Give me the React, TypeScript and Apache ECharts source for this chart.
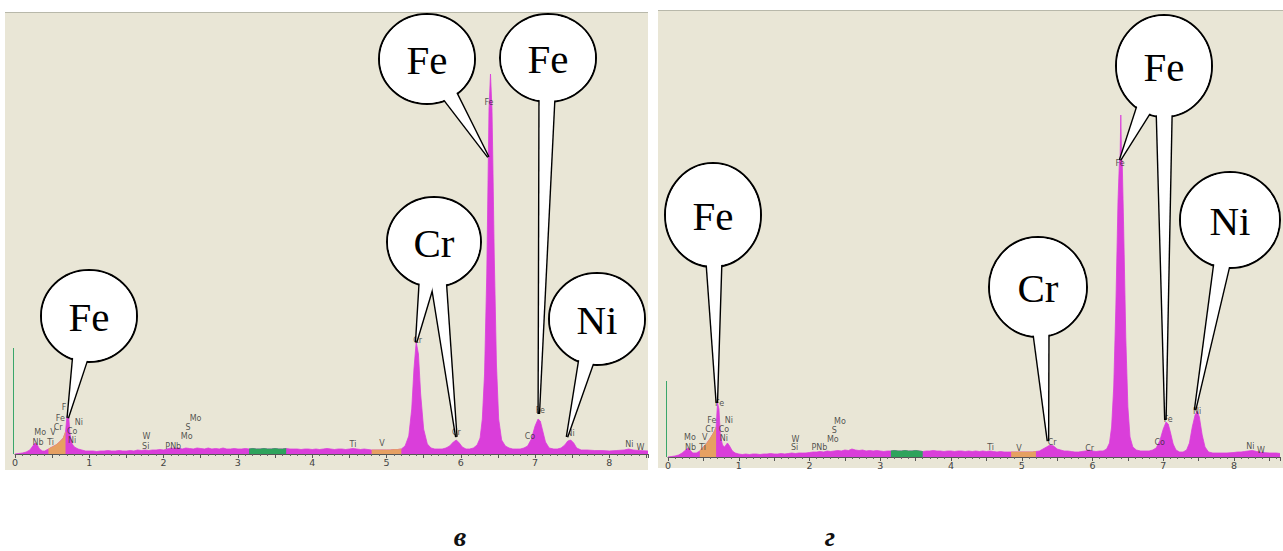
import React, { useEffect, useRef } from "react";
import * as echarts from "echarts";

// ---------- spectrum "в" (left panel): energy, keV / counts (arb. units) ----------
const leftEnergy = [
  0.0, 0.05, 0.1, 0.15, 0.2, 0.24, 0.27, 0.3, 0.33, 0.37, 0.4, 0.45, 0.5, 0.55, 0.6, 0.65, 0.68, 0.7, 0.72, 0.74, 0.77, 0.8, 0.85, 0.9, 0.95,
  1.0, 1.05, 1.1, 1.15, 1.2, 1.25, 1.3, 1.35, 1.4, 1.45, 1.5, 1.55, 1.6, 1.65, 1.7, 1.75, 1.8, 1.85, 1.9, 1.95,
  2.0, 2.05, 2.1, 2.15, 2.2, 2.25, 2.3, 2.35, 2.4, 2.45, 2.5, 2.55, 2.6, 2.65, 2.7, 2.75, 2.8, 2.85, 2.9, 2.95,
  3.0, 3.05, 3.1, 3.15, 3.2, 3.25, 3.3, 3.35, 3.4, 3.45, 3.5, 3.55, 3.6, 3.65, 3.7, 3.75, 3.8, 3.85, 3.9, 3.95,
  4.0, 4.05, 4.1, 4.15, 4.2, 4.25, 4.3, 4.35, 4.4, 4.45, 4.5, 4.55, 4.6, 4.65, 4.7, 4.75, 4.8, 4.85, 4.9, 4.95,
  5.0, 5.05, 5.1, 5.15, 5.2, 5.25, 5.3, 5.34, 5.37, 5.4, 5.43, 5.46, 5.5, 5.55, 5.6, 5.65, 5.7, 5.75, 5.8, 5.85, 5.9, 5.94, 5.98,
  6.02, 6.07, 6.12, 6.17, 6.22, 6.26, 6.29, 6.32, 6.35, 6.37, 6.38, 6.4, 6.42, 6.43, 6.45, 6.48, 6.51, 6.55, 6.6, 6.65, 6.7, 6.75, 6.8, 6.85, 6.9, 6.95,
  7.0, 7.04, 7.07, 7.1, 7.14, 7.19, 7.25, 7.3, 7.35, 7.4, 7.44, 7.48, 7.52, 7.56, 7.62, 7.7, 7.8, 7.9,
  8.0, 8.1, 8.2, 8.26, 8.32, 8.4, 8.52,
];
const leftCounts = [
  0, 0.5, 1, 2, 4, 8, 11, 9, 5, 3, 3, 5, 7, 9, 12, 16, 22, 38, 40, 20, 10, 7, 5, 4, 3,
  3, 3, 2.5, 3, 3, 3.5, 3, 3, 3.5, 3, 3, 3.5, 3, 4, 3.5, 4, 3.5, 4, 4, 4.5,
  4, 5, 6, 5.5, 6, 5, 6, 5.5, 5, 6, 5.5, 5, 6, 5, 5.5, 5, 6, 5, 5, 5.5,
  5, 5, 5.5, 5, 5.5, 5, 5, 5.5, 5, 5, 5.5, 5, 5, 5.5, 5, 5, 5, 4.5, 5, 5,
  4.5, 5, 4.5, 5, 5.5, 5, 4.5, 5, 5, 4.5, 5, 5.5, 5, 4.5, 5, 4.5, 4, 4, 4, 4,
  4, 4, 4.5, 4.5, 5, 8, 18, 45, 85, 112, 100, 60, 25, 10, 6, 5, 5, 5, 6, 8, 12, 14, 11,
  7, 5, 5, 6, 9, 16, 35, 80, 180, 290, 345, 380, 345, 300, 200, 90, 35, 14, 8, 6, 5, 5, 5, 6, 8, 15,
  28, 35, 33, 24, 12, 6, 5, 5, 6, 9, 13, 14, 11, 6, 4, 4, 3.5, 3.5,
  3, 3.5, 4, 5, 4, 3.5, 3,
];

// ---------- spectrum "г" (right panel) ----------
const rightEnergy = [
  0.0, 0.05, 0.1, 0.15, 0.2, 0.25, 0.28, 0.31, 0.35, 0.4, 0.45, 0.5, 0.55, 0.6, 0.65, 0.68, 0.7, 0.72, 0.74, 0.77, 0.8, 0.84, 0.87, 0.91, 0.95,
  1.0, 1.05, 1.1, 1.15, 1.2, 1.25, 1.3, 1.35, 1.4, 1.45, 1.5, 1.55, 1.6, 1.65, 1.7, 1.75, 1.8, 1.85, 1.9, 1.95,
  2.0, 2.05, 2.1, 2.15, 2.2, 2.25, 2.3, 2.35, 2.4, 2.45, 2.5, 2.55, 2.6, 2.65, 2.7, 2.75, 2.8, 2.85, 2.9, 2.95,
  3.0, 3.05, 3.1, 3.15, 3.2, 3.25, 3.3, 3.35, 3.4, 3.45, 3.5, 3.55, 3.6, 3.65, 3.7, 3.75, 3.8, 3.85, 3.9, 3.95,
  4.0, 4.05, 4.1, 4.15, 4.2, 4.25, 4.3, 4.35, 4.4, 4.45, 4.5, 4.55, 4.6, 4.65, 4.7, 4.75, 4.8, 4.85, 4.9, 4.95,
  5.0, 5.05, 5.1, 5.15, 5.2, 5.25, 5.3, 5.35, 5.4, 5.45, 5.5, 5.55, 5.6, 5.65, 5.7, 5.75, 5.8, 5.85, 5.9, 5.95,
  6.0, 6.05, 6.1, 6.15, 6.2, 6.24, 6.27, 6.3, 6.33, 6.36, 6.38, 6.39, 6.4, 6.41, 6.42, 6.44, 6.47, 6.5, 6.53, 6.57, 6.62, 6.68, 6.74, 6.8, 6.85, 6.9, 6.95,
  7.0, 7.04, 7.07, 7.1, 7.14, 7.18, 7.23, 7.28, 7.33, 7.37, 7.41, 7.45, 7.48, 7.51, 7.55, 7.59, 7.64, 7.7, 7.8, 7.9,
  8.0, 8.05, 8.1, 8.15, 8.2, 8.26, 8.32, 8.4, 8.5, 8.6, 8.65,
];
const rightCounts = [
  0, 0.5, 1, 2, 4, 7, 9, 7, 4, 4, 6, 10, 14, 19, 25, 30, 54, 48, 22, 12, 10, 14, 11, 6, 4,
  3, 2.5, 3, 2.5, 3, 3, 2.5, 3, 3, 3.5, 3, 3, 3.5, 3, 3.5, 4, 3.5, 4, 4, 4,
  4.5, 5, 5, 5.5, 5, 6, 5.5, 6, 6.5, 6, 7, 6.5, 8, 7, 6.5, 7, 6, 6.5, 6, 6.5,
  6, 5.5, 6, 6, 6.5, 6, 6, 6.5, 6, 6, 6.5, 6, 5.5, 6, 6, 6.5, 6, 6, 5.5, 6,
  6, 5.5, 6, 6, 5.5, 6, 5.5, 6, 5.5, 6, 5.5, 6, 5.5, 5, 5.5, 5, 5, 5, 5, 5,
  5, 5, 5, 5, 5.5, 6, 8, 10, 12, 11, 8, 7, 6, 6, 5.5, 5, 5, 5.5, 6, 7,
  6, 5.5, 6, 6, 8, 14, 30, 70, 150, 255, 295, 300, 342, 300, 295, 230, 120, 50, 20, 10, 7, 6, 6, 6, 7, 9, 16,
  28, 35, 33, 25, 13, 7, 5, 5, 7, 14, 30, 42, 46, 40, 22, 10, 5, 4, 4, 4,
  4.5, 5, 5, 5.5, 6, 6.5, 5.5, 4.5, 4, 4, 3.5,
];

// highlighted energy windows (keV) of the analyser, with their kind
const leftWindows: [number, number, string][] = [
  [0.42, 0.68, "roi"],
  [3.14, 3.66, "bg"],
  [4.8, 5.22, "roi"],
];
const rightWindows: [number, number, string][] = [
  [0.42, 0.68, "roi"],
  [3.15, 3.64, "bg"],
  [4.81, 5.2, "roi"],
];

// small line markers of the analyser: [energy, height, element]
const leftTags: [number, number, string][] = [
  [0.34, 22, "Mo"], [0.31, 12, "Nb"], [0.51, 22, "V"], [0.48, 12, "Ti"], [0.58, 27, "Cr"],
  [0.61, 36, "Fe"], [0.66, 47, "F"], [0.86, 32, "Ni"], [0.77, 23, "Co"], [0.77, 14, "Ni"],
  [1.77, 18, "W"], [1.76, 8, "Si"], [2.13, 8, "PNb"], [2.43, 36, "Mo"], [2.33, 27, "S"],
  [2.31, 18, "Mo"], [4.55, 10, "Ti"], [4.94, 11, "V"], [5.42, 114, "Cr"], [5.94, 22, "Cr"],
  [6.38, 352, "Fe"], [6.93, 18, "Co"], [7.07, 44, "Fe"], [7.48, 21, "Ni"], [8.27, 10, "Ni"], [8.42, 7, "W"],
];
const rightTags: [number, number, string][] = [
  [0.31, 20, "Mo"], [0.32, 10, "Nb"], [0.52, 20, "V"], [0.49, 10, "Ti"], [0.59, 28, "Cr"],
  [0.62, 37, "Fe"], [0.79, 28, "Co"], [0.86, 37, "Ni"], [0.79, 19, "Ni"], [0.73, 54, "Fe"],
  [1.8, 18, "W"], [1.79, 10, "Si"], [2.14, 10, "PNb"], [2.43, 36, "Mo"], [2.35, 27, "S"],
  [2.33, 18, "Mo"], [4.56, 10, "Ti"], [4.96, 9, "V"], [5.43, 15, "Cr"], [5.96, 9, "Cr"],
  [6.39, 294, "Fe"], [6.95, 15, "Co"], [7.07, 38, "Fe"], [7.48, 46, "Ni"], [8.23, 11, "Ni"], [8.38, 7, "W"],
];

// callout labels and the peak points [energy, height] they point at
const leftCalloutLabels = ["Fe", "Fe", "Cr", "Fe", "Ni"];
const leftCalloutTargets: number[][][] = [
  [[6.37, 297]],
  [[7.05, 40]],
  [[5.4, 112], [5.94, 17]],
  [[0.71, 36]],
  [[7.43, 17]],
];
const rightCalloutLabels = ["Fe", "Fe", "Cr", "Ni"];
const rightCalloutTargets: number[][][] = [
  [[6.39, 297], [7.03, 37]],
  [[0.69, 54]],
  [[5.37, 16]],
  [[7.45, 47]],
];

const panelCaptions = ["в", "г"];

// ---------- layout / style (pixels) ----------
const W = 1283;
const H = 551;
const MAGENTA = "#da3eda";
const ORANGE = "#e6a062";
const GREEN = "#2ea35c";
const BEIGE = "#e9e6d6";
const SERIF = "Liberation Serif";
const leftBubbles = [
  { cx: 427, cy: 59, rx: 48, ry: 45 },
  { cx: 548, cy: 58, rx: 48, ry: 44 },
  { cx: 434, cy: 242, rx: 47, ry: 45 },
  { cx: 89, cy: 316, rx: 48, ry: 46 },
  { cx: 597, cy: 319, rx: 48, ry: 46 },
];
const rightBubbles = [
  { cx: 1164, cy: 66, rx: 48, ry: 51 },
  { cx: 713, cy: 215, rx: 48, ry: 52 },
  { cx: 1038, cy: 287, rx: 49, ry: 50 },
  { cx: 1230, cy: 220, rx: 50, ry: 48 },
];
const grids = [
  { left: 15, top: 12, width: 633, height: 442, maxE: 8.52 },
  { left: 668, top: 10, width: 615, height: 447, maxE: 8.65 },
];

function pairs(e: number[], c: number[]) {
  return e.map((x, i) => [x, c[i]]);
}

function spectrumSeries(g: number, e: number[], c: number[], windows: [number, number, string][]) {
  const all = pairs(e, c);
  const out: any[] = [
    {
      type: "line",
      xAxisIndex: g,
      yAxisIndex: g,
      data: all,
      symbol: "none",
      showSymbol: false,
      silent: true,
      lineStyle: { color: MAGENTA, width: 0.8 },
      areaStyle: { color: MAGENTA, opacity: 1 },
      z: 2,
    },
  ];
  windows.forEach(([lo, hi, kind]) => {
    const col = kind === "bg" ? GREEN : ORANGE;
    out.push({
      type: "line",
      xAxisIndex: g,
      yAxisIndex: g,
      data: all.filter((p) => p[0] >= lo && p[0] <= hi),
      symbol: "none",
      showSymbol: false,
      silent: true,
      lineStyle: { color: col, width: 0.8 },
      areaStyle: { color: col, opacity: 1 },
      z: 3,
    });
  });
  return out;
}

function tagSeries(g: number, tags: [number, number, string][]) {
  return {
    type: "scatter",
    xAxisIndex: g,
    yAxisIndex: g,
    data: tags.map((t) => [t[0], t[1], t[2]]),
    symbol: "circle",
    symbolSize: 1,
    itemStyle: { color: "rgba(0,0,0,0)" },
    silent: true,
    z: 6,
    label: {
      show: true,
      position: "inside",
      formatter: (p: any) => p.data[2],
      fontSize: 8,
      color: "#2a2a2a",
      fontFamily: "DejaVu Sans",
    },
  };
}

function axisX(g: number) {
  return {
    type: "value",
    gridIndex: g,
    min: 0,
    max: grids[g].maxE,
    interval: 0.5,
    axisLine: { show: true, onZero: false, lineStyle: { color: "#555", width: 1 } },
    axisTick: { show: true, length: 4, lineStyle: { color: "#555" } },
    minorTick: { show: true, splitNumber: 5, length: 2, lineStyle: { color: "#666" } },
    splitLine: { show: false },
    minorSplitLine: { show: false },
    axisLabel: {
      fontSize: 9.5,
      margin: 3,
      color: "#444",
      fontFamily: "DejaVu Sans",
      formatter: (v: number) => {
        const r = Math.round(v * 1000) / 1000;
        return Number.isInteger(r) ? String(r) : "";
      },
    },
  };
}

function axisY(g: number) {
  return { type: "value", gridIndex: g, min: 0, max: grids[g].height, show: false, splitLine: { show: false } };
}

function bubbleGraphics(layout: { cx: number; cy: number; rx: number; ry: number }, tips: number[][], label: string, z: number) {
  const { cx, cy, rx, ry } = layout;
  const d = 0.17;
  const k = 0.9;
  const tails = tips.map(([tx, ty]) => {
    const t = Math.atan2((ty - cy) / ry, (tx - cx) / rx);
    return [
      [cx + rx * k * Math.cos(t - d), cy + ry * k * Math.sin(t - d)],
      [tx, ty],
      [cx + rx * k * Math.cos(t + d), cy + ry * k * Math.sin(t + d)],
    ];
  });
  const els: any[] = [];
  els.push({ type: "ellipse", silent: true, z, shape: { cx, cy, rx, ry }, style: { fill: "#fff", stroke: "#000", lineWidth: 2 } });
  tails.forEach((pts) =>
    els.push({ type: "polygon", silent: true, z: z + 1, shape: { points: pts }, style: { fill: "#fff", stroke: "#000", lineWidth: 2.8, lineJoin: "miter" } })
  );
  els.push({ type: "ellipse", silent: true, z: z + 2, shape: { cx, cy, rx: rx - 1.1, ry: ry - 1.1 }, style: { fill: "#fff" } });
  tails.forEach((pts) => els.push({ type: "polygon", silent: true, z: z + 3, shape: { points: pts }, style: { fill: "#fff" } }));
  els.push({
    type: "text",
    silent: true,
    z: z + 4,
    x: cx,
    y: cy + 1,
    style: {
      text: label,
      fontFamily: SERIF,
      fontSize: 41,
      fill: "#000",
      textAlign: "center",
      textVerticalAlign: "middle",
      verticalAlign: "middle",
    },
  });
  return els;
}

export default function App() {
  const ref = useRef<HTMLDivElement>(null);
  useEffect(() => {
    if (!ref.current) return;
    const chart = echarts.init(ref.current, null, { renderer: "svg" });
    const option: any = {
      animation: false,
      backgroundColor: "#ffffff",
      grid: grids.map((g) => ({ left: g.left, top: g.top, width: g.width, height: g.height, containLabel: false })),
      xAxis: [axisX(0), axisX(1)],
      yAxis: [axisY(0), axisY(1)],
      series: [
        ...spectrumSeries(0, leftEnergy, leftCounts, leftWindows),
        ...spectrumSeries(1, rightEnergy, rightCounts, rightWindows),
        tagSeries(0, leftTags),
        tagSeries(1, rightTags),
      ],
    };
    chart.setOption(option);

    const toPx = (g: number, p: number[]) => chart.convertToPixel({ gridIndex: g } as any, p) as unknown as number[];
    const graphics: any[] = [];
    // panel backgrounds
    graphics.push({ type: "rect", silent: true, z: -10, shape: { x: 5, y: 12, width: 643, height: 458 }, style: { fill: BEIGE } });
    graphics.push({ type: "rect", silent: true, z: -10, shape: { x: 658, y: 10, width: 625, height: 458 }, style: { fill: BEIGE } });
    graphics.push({ type: "line", silent: true, z: 1, shape: { x1: 5, y1: 12.5, x2: 648, y2: 12.5 }, style: { stroke: "#b8b8aa", lineWidth: 1 } });
    graphics.push({ type: "line", silent: true, z: 1, shape: { x1: 658, y1: 10.5, x2: 1283, y2: 10.5 }, style: { stroke: "#b8b8aa", lineWidth: 1 } });
    // green energy cursor at 0 keV
    [0, 1].forEach((g) => {
      const base = toPx(g, [0, 0]);
      const top = toPx(g, [0, g === 0 ? 106 : 76]);
      graphics.push({
        type: "line",
        silent: true,
        z: 4,
        shape: { x1: base[0] - 1.5, y1: base[1], x2: base[0] - 1.5, y2: top[1] },
        style: { stroke: "#3aa66a", lineWidth: 1 },
      });
    });
    // callouts
    leftCalloutTargets.forEach((targets, i) => {
      const tips = targets.map((p) => toPx(0, p));
      graphics.push(...bubbleGraphics(leftBubbles[i], tips, leftCalloutLabels[i], 50 + i * 6));
    });
    rightCalloutTargets.forEach((targets, i) => {
      const tips = targets.map((p) => toPx(1, p));
      graphics.push(...bubbleGraphics(rightBubbles[i], tips, rightCalloutLabels[i], 90 + i * 6));
    });
    // captions
    const capX = [460, 830];
    panelCaptions.forEach((c, i) =>
      graphics.push({
        type: "text",
        silent: true,
        z: 10,
        x: capX[i],
        y: 536,
        style: {
          text: c,
          fontFamily: SERIF,
          fontStyle: "italic",
          fontWeight: "bold",
          fontSize: 28,
          fill: "#111",
          textAlign: "center",
          textVerticalAlign: "middle",
          verticalAlign: "middle",
        },
      })
    );
    chart.setOption({ graphic: graphics });
    return () => chart.dispose();
  }, []);
  return <div ref={ref} style={{ position: "absolute", left: 0, top: 0, width: W, height: H }} />;
}
